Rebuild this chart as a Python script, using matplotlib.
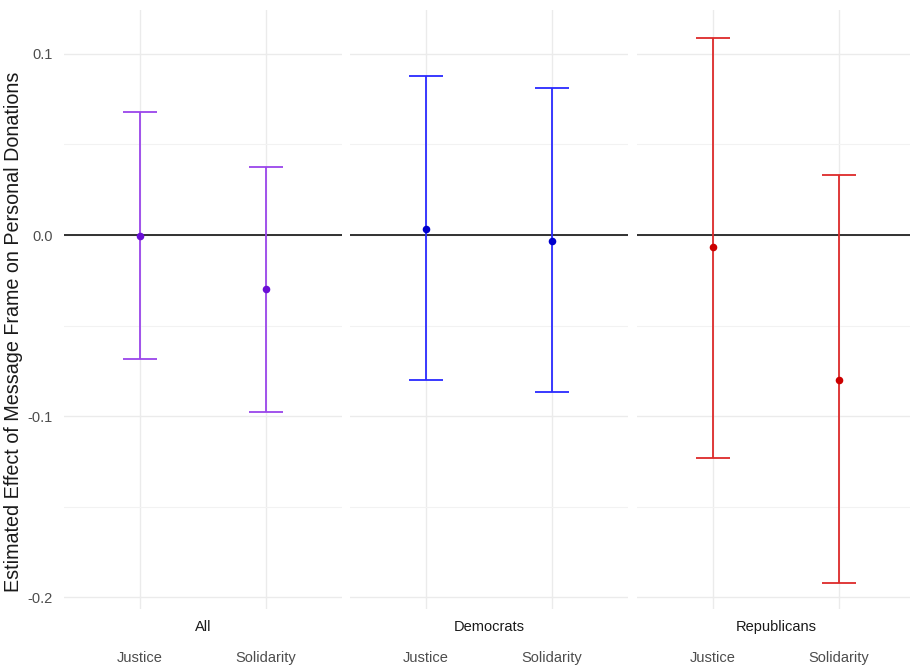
import numpy as np
import matplotlib
matplotlib.use("Agg")
import matplotlib.pyplot as plt

plt.rcParams['font.family'] = ['Liberation Sans', 'DejaVu Sans']

groups = ["All", "Democrats", "Republicans"]
frames = ["Justice", "Solidarity"]
estimate = [[-0.0005, -0.030], [0.0033, -0.0033], [-0.0066, -0.080]]
lower = [[-0.0685, -0.098], [-0.080, -0.087], [-0.123, -0.192]]
upper = [[0.068, 0.0376], [0.088, 0.081], [0.109, 0.033]]
point_colors = ["#6a0fd6", "#0000cc", "#cc0000"]
bar_colors = ["#9a45ea", "#2a2aff", "#dd2a2a"]

W, H = 910, 666
fig = plt.figure(figsize=(W / 100, H / 100), dpi=100)

# panel pixel extents (left, right); top/bottom shared
panels = [(64, 342), (350, 628), (637, 915)]
top, bottom = 10, 609
ymin, ymax = -0.2066, 0.1243

for i, (l, r) in enumerate(panels):
    ax = fig.add_axes([l / W, 1 - bottom / H, (r - l) / W, (bottom - top) / H])
    x = np.arange(1, len(frames) + 1)
    est = np.array(estimate[i])
    lo = np.array(lower[i])
    hi = np.array(upper[i])
    ax.axhline(0, color="#222222", lw=1.3, zorder=2)
    ax.errorbar(x, est, yerr=[est - lo, hi - est], fmt="none",
                ecolor=bar_colors[i], elinewidth=1.3, capsize=12.5,
                capthick=1.3, zorder=3)
    ax.scatter(x, est, s=30, color=point_colors[i], zorder=4, linewidths=0)
    ax.set_xlim(0.4, 2.6)
    ax.set_ylim(ymin, ymax)
    ax.set_yticks([-0.2, -0.1, 0.0, 0.1])
    ax.set_yticks([-0.15, -0.05, 0.05], minor=True)
    ax.set_xticks(x)
    ax.set_xticklabels(frames)
    ax.grid(True, which="major", color="#ebebeb", lw=1.0, zorder=0)
    ax.grid(True, which="minor", axis="y", color="#f2f2f2", lw=0.8, zorder=0)
    ax.set_axisbelow(True)
    for s in ax.spines.values():
        s.set_visible(False)
    ax.tick_params(axis="both", which="both", length=0, colors="#4d4d4d",
                   labelsize=10.5)
    ax.tick_params(axis="x", pad=35)
    for t in ax.get_xticklabels():
        t.set_va("center")
    if i == 0:
        ax.set_yticklabels(["-0.2", "-0.1", "0.0", "0.1"])
        ax.tick_params(axis="y", pad=8)
    else:
        ax.tick_params(axis="y", labelleft=False)
    ax.text(0.5, -0.0295, groups[i], transform=ax.transAxes, ha="center",
            va="center", fontsize=10.5, color="#1a1a1a")

fig.text(14 / W, 1 - 332 / H,
         "Estimated Effect of Message Frame on Personal Donations",
         rotation=90, ha="center", va="center", fontsize=14.2, color="#1a1a1a")

fig.savefig("out.png", dpi=100)
